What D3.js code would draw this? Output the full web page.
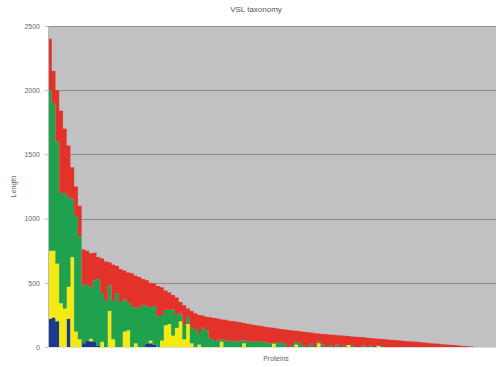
<!DOCTYPE html>
<html>
<head>
<meta charset="utf-8">
<script src="https://cdn.jsdelivr.net/npm/d3@7"></script>
<style>
  html, body { margin: 0; padding: 0; background: #fff; }
  svg { display: block; font-family: "Liberation Sans", Arial, sans-serif; }
</style>
</head>
<body>
<div id="chart"></div>
<script>
// Stacked lengths per protein, proteins sorted by total length
const seriesNames = ["blue", "yellow", "green", "red"];
const seriesColors = ["#1c3a8c", "#f2ea10", "#1ea24e", "#e2322a"];

const blueVals = [220,230,200,0,0,220,0,0,0,30,50,45,40,10,0,0,0,0,0,0,
  0,0,0,0,0,0,25,30,20,0,0,0,0,0,0,0,0,0,0,0,
  0,0,0,0,0,0,0,0,0,0,0,0,0,0,0,0,0,0,0,0,
  0,0,0,0,0,0,0,0,0,0,0,0,0,0,0,0,0,0,0,0,
  0,0,0,0,0,0,0,0,0,0,0,0,0,0,0,0,0,0,0,0,
  0,0,0,0,0,0,0,0,0,0,0,0,0,0,0];

const yellowVals = [530,520,450,340,300,250,700,120,60,0,0,20,0,0,40,0,280,60,0,0,
  120,130,0,30,0,0,0,20,0,0,50,170,180,90,150,200,60,180,30,0,
  20,0,0,0,0,0,40,0,0,0,0,0,30,0,0,0,0,0,0,0,
  25,0,0,0,0,0,20,0,0,0,0,0,30,0,0,0,0,0,0,0,
  15,0,0,0,0,0,0,0,10,0,0,0,0,0,0,0,0,0,0,0,
  0,0,0,0,0,0,0,0,0,0,0,0,0,0,0];

const greenVals = [1250,1150,950,860,900,700,450,900,800,450,440,400,480,520,380,360,200,300,420,350,
  250,220,320,280,300,330,290,260,300,240,200,120,110,200,100,60,120,50,120,140,
  90,150,130,70,55,50,20,50,50,45,45,50,20,45,40,40,45,40,35,30,
  10,30,40,25,0,15,20,30,10,0,25,0,10,20,0,15,0,20,0,10,
  0,15,0,0,12,0,10,0,0,8,0,0,0,0,0,0,0,0,0,0,
  0,0,0,0,0,0,0,0,0,0,0,0,0,0,0];

const redVals = [400,250,400,640,500,400,250,230,240,280,260,265,215,170,270,305,180,280,210,255,
  225,230,255,245,245,200,205,190,175,235,215,150,135,115,135,90,145,70,130,122,
  140,95,106,162,170,172,155,162,155,158,151,142,136,137,136,132,121,122,121,122,
  114,115,101,111,133,114,86,92,109,115,88,108,66,82,100,82,95,72,90,77,
  70,67,80,77,63,72,60,67,55,54,60,57,55,52,50,47,45,42,40,38,
  35,33,30,28,25,22,20,18,15,13,10,8,6,4,2];

const yTicks = [0, 500, 1000, 1500, 2000, 2500];
const xSlots = 120;
const titleText = "VSL taxonomy";
const yAxisTitle = "Length";
const xAxisTitle = "Proteins";

const W = 500, H = 367;
const margin = { top: 26, right: 4, bottom: 20, left: 48 };
const iw = W - margin.left - margin.right;
const ih = H - margin.top - margin.bottom;

const rows = blueVals.map((_, i) => ({
  i,
  blue: blueVals[i], yellow: yellowVals[i], green: greenVals[i], red: redVals[i]
}));

const stack = d3.stack().keys(seriesNames)(rows);

const x = d3.scaleLinear().domain([0, xSlots]).range([0, iw]);
const y = d3.scaleLinear().domain([0, 2500]).range([ih, 0]);

const svg = d3.select("#chart").append("svg").attr("width", W).attr("height", H);

svg.append("text")
  .attr("x", 256).attr("y", 12)
  .attr("text-anchor", "middle")
  .attr("font-size", 8).attr("fill", "#555")
  .text(titleText);

const g = svg.append("g").attr("transform", `translate(${margin.left},${margin.top})`);

g.append("rect").attr("width", iw).attr("height", ih).attr("fill", "#c1c0c2");

g.append("g").selectAll("line").data(yTicks.filter(t => t > 0)).join("line")
  .attr("x1", 0).attr("x2", iw)
  .attr("y1", d => Math.round(y(d)) + 0.5).attr("y2", d => Math.round(y(d)) + 0.5)
  .attr("stroke", "#8c8c8e").attr("stroke-width", 1);

const area = d3.area()
  .x(d => x(d.data.i))
  .y0(d => y(d[0]))
  .y1(d => y(d[1]))
  .curve(d3.curveStepAfter);

g.append("g").selectAll("path").data(stack).join("path")
  .attr("fill", (d, k) => seriesColors[k])
  .attr("d", area);

const yAxis = g.append("g")
  .call(d3.axisLeft(y).tickValues(yTicks).tickSize(3).tickPadding(5).tickFormat(d3.format("d")));
yAxis.select(".domain").attr("stroke", "#bbb");
yAxis.selectAll(".tick line").attr("stroke", "#bbb");
yAxis.selectAll("text").attr("font-size", 7).attr("fill", "#666");

g.append("line").attr("x1", 0).attr("x2", iw).attr("y1", ih + 0.5).attr("y2", ih + 0.5)
  .attr("stroke", "#ddd");

svg.append("text")
  .attr("transform", `translate(16,${margin.top + ih / 2}) rotate(-90)`)
  .attr("text-anchor", "middle")
  .attr("font-size", 7).attr("fill", "#666")
  .text(yAxisTitle);

svg.append("text")
  .attr("x", 276).attr("y", 361)
  .attr("text-anchor", "middle")
  .attr("font-size", 7).attr("fill", "#666")
  .text(xAxisTitle);
</script>
</body>
</html>
